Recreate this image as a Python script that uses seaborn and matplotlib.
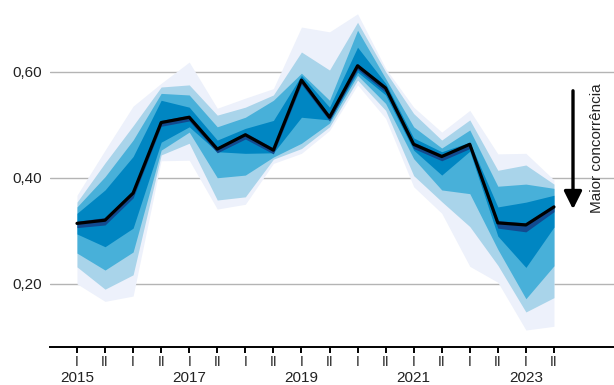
import numpy as np
import matplotlib
matplotlib.use("Agg")
import matplotlib.pyplot as plt
import seaborn as sns

# semesters 2015 I .. 2023 II
semesters = ["I", "II"] * 9
years = ["2015", "2017", "2019", "2021", "2023"]
year_pos = [0, 4, 8, 12, 16]

median = [0.314, 0.320, 0.371, 0.504, 0.514, 0.454, 0.481, 0.452, 0.584,
          0.514, 0.611, 0.569, 0.463, 0.440, 0.463, 0.315, 0.311, 0.345]

# upper edges (outer -> inner)
up_lightest = [0.367, 0.452, 0.535, 0.578, 0.618, 0.531, 0.550, 0.568, 0.684,
               0.675, 0.709, 0.606, 0.533, 0.486, 0.527, 0.445, 0.446, 0.396]
up_light = [0.354, 0.428, 0.498, 0.571, 0.575, 0.518, 0.533, 0.556, 0.637,
            0.603, 0.693, 0.600, 0.521, 0.471, 0.509, 0.414, 0.424, 0.388]
up_medium = [0.345, 0.402, 0.471, 0.559, 0.556, 0.496, 0.514, 0.546, 0.597,
             0.546, 0.678, 0.587, 0.496, 0.456, 0.490, 0.384, 0.388, 0.380]
up_dark = [0.333, 0.377, 0.440, 0.546, 0.533, 0.471, 0.493, 0.508, 0.593,
           0.533, 0.646, 0.578, 0.475, 0.449, 0.467, 0.345, 0.354, 0.367]
up_navy = [0.318, 0.325, 0.376, 0.508, 0.518, 0.458, 0.485, 0.456, 0.588,
           0.518, 0.615, 0.573, 0.467, 0.444, 0.467, 0.319, 0.315, 0.349]

# lower edges (inner -> outer)
lo_navy = [0.306, 0.311, 0.362, 0.497, 0.507, 0.447, 0.473, 0.445, 0.576,
           0.507, 0.604, 0.561, 0.455, 0.432, 0.455, 0.305, 0.298, 0.336]
lo_dark = [0.294, 0.270, 0.305, 0.467, 0.496, 0.449, 0.446, 0.447, 0.514,
           0.509, 0.599, 0.556, 0.452, 0.405, 0.450, 0.290, 0.231, 0.307]
lo_medium = [0.258, 0.226, 0.260, 0.452, 0.486, 0.400, 0.405, 0.439, 0.465,
             0.503, 0.593, 0.540, 0.436, 0.377, 0.370, 0.265, 0.172, 0.234]
lo_light = [0.232, 0.190, 0.217, 0.443, 0.465, 0.358, 0.364, 0.435, 0.455,
            0.496, 0.584, 0.527, 0.404, 0.355, 0.308, 0.235, 0.147, 0.174]
lo_lightest = [0.200, 0.167, 0.177, 0.432, 0.433, 0.341, 0.350, 0.427, 0.446,
               0.489, 0.575, 0.512, 0.383, 0.333, 0.233, 0.203, 0.113, 0.120]

colors = ["#edf1fb", "#a9d4ea", "#48b0d9", "#0086c2", "#124a8f"]

sns.set_theme(style="white")
plt.rcParams["font.family"] = ["Liberation Sans", "DejaVu Sans"]

x = np.arange(len(median))
fig = plt.figure(figsize=(6.14, 3.85), dpi=100)
ax = fig.add_axes([50 / 614, 38 / 385, 564 / 614, 347 / 385])

for y in [0.2, 0.4, 0.6]:
    ax.axhline(y, color="#b4b4b4", lw=1.0, zorder=0)

bands = [(lo_lightest, up_lightest), (lo_light, up_light), (lo_medium, up_medium),
         (lo_dark, up_dark), (lo_navy, up_navy)]
for (lo, hi), c in zip(bands, colors):
    ax.fill_between(x, lo, hi, color=c, lw=0, zorder=1)

sns.lineplot(x=x, y=median, color="black", lw=2.3, ax=ax, zorder=3)

ax.set_xlim(-0.962, 19.14)
ax.set_ylim(0.081, 0.735)
ax.set_yticks([0.2, 0.4, 0.6])
ax.set_yticklabels(["0,20", "0,40", "0,60"], fontsize=11, color="#222222")
ax.set_xticks(x)
ax.set_xticklabels(semesters, fontsize=10, color="#222222")
ax.tick_params(axis="x", length=4, width=1.4, color="black", pad=2, bottom=True)
ax.tick_params(axis="y", length=0, pad=6)

for s in ["top", "right", "left"]:
    ax.spines[s].set_visible(False)
ax.spines["bottom"].set_color("black")
ax.spines["bottom"].set_linewidth(1.4)

trans = matplotlib.transforms.blended_transform_factory(ax.transData, fig.transFigure)
for p, yr in zip(year_pos, years):
    ax.text(p, 7 / 385, yr, transform=trans, ha="center", va="center",
            fontsize=11, color="#222222")

ax.annotate("", xy=(573 / 614, 1 - 212 / 385), xytext=(573 / 614, 1 - 88 / 385),
            xycoords="figure fraction", textcoords="figure fraction",
            arrowprops=dict(arrowstyle="-|>,head_length=0.9,head_width=0.45",
                            color="black", lw=2.4))
fig.text(597 / 614, 1 - 148 / 385, "Maior concorrência", rotation=90,
         ha="center", va="center", fontsize=11, color="#222222")

fig.savefig("out.png", dpi=100)
